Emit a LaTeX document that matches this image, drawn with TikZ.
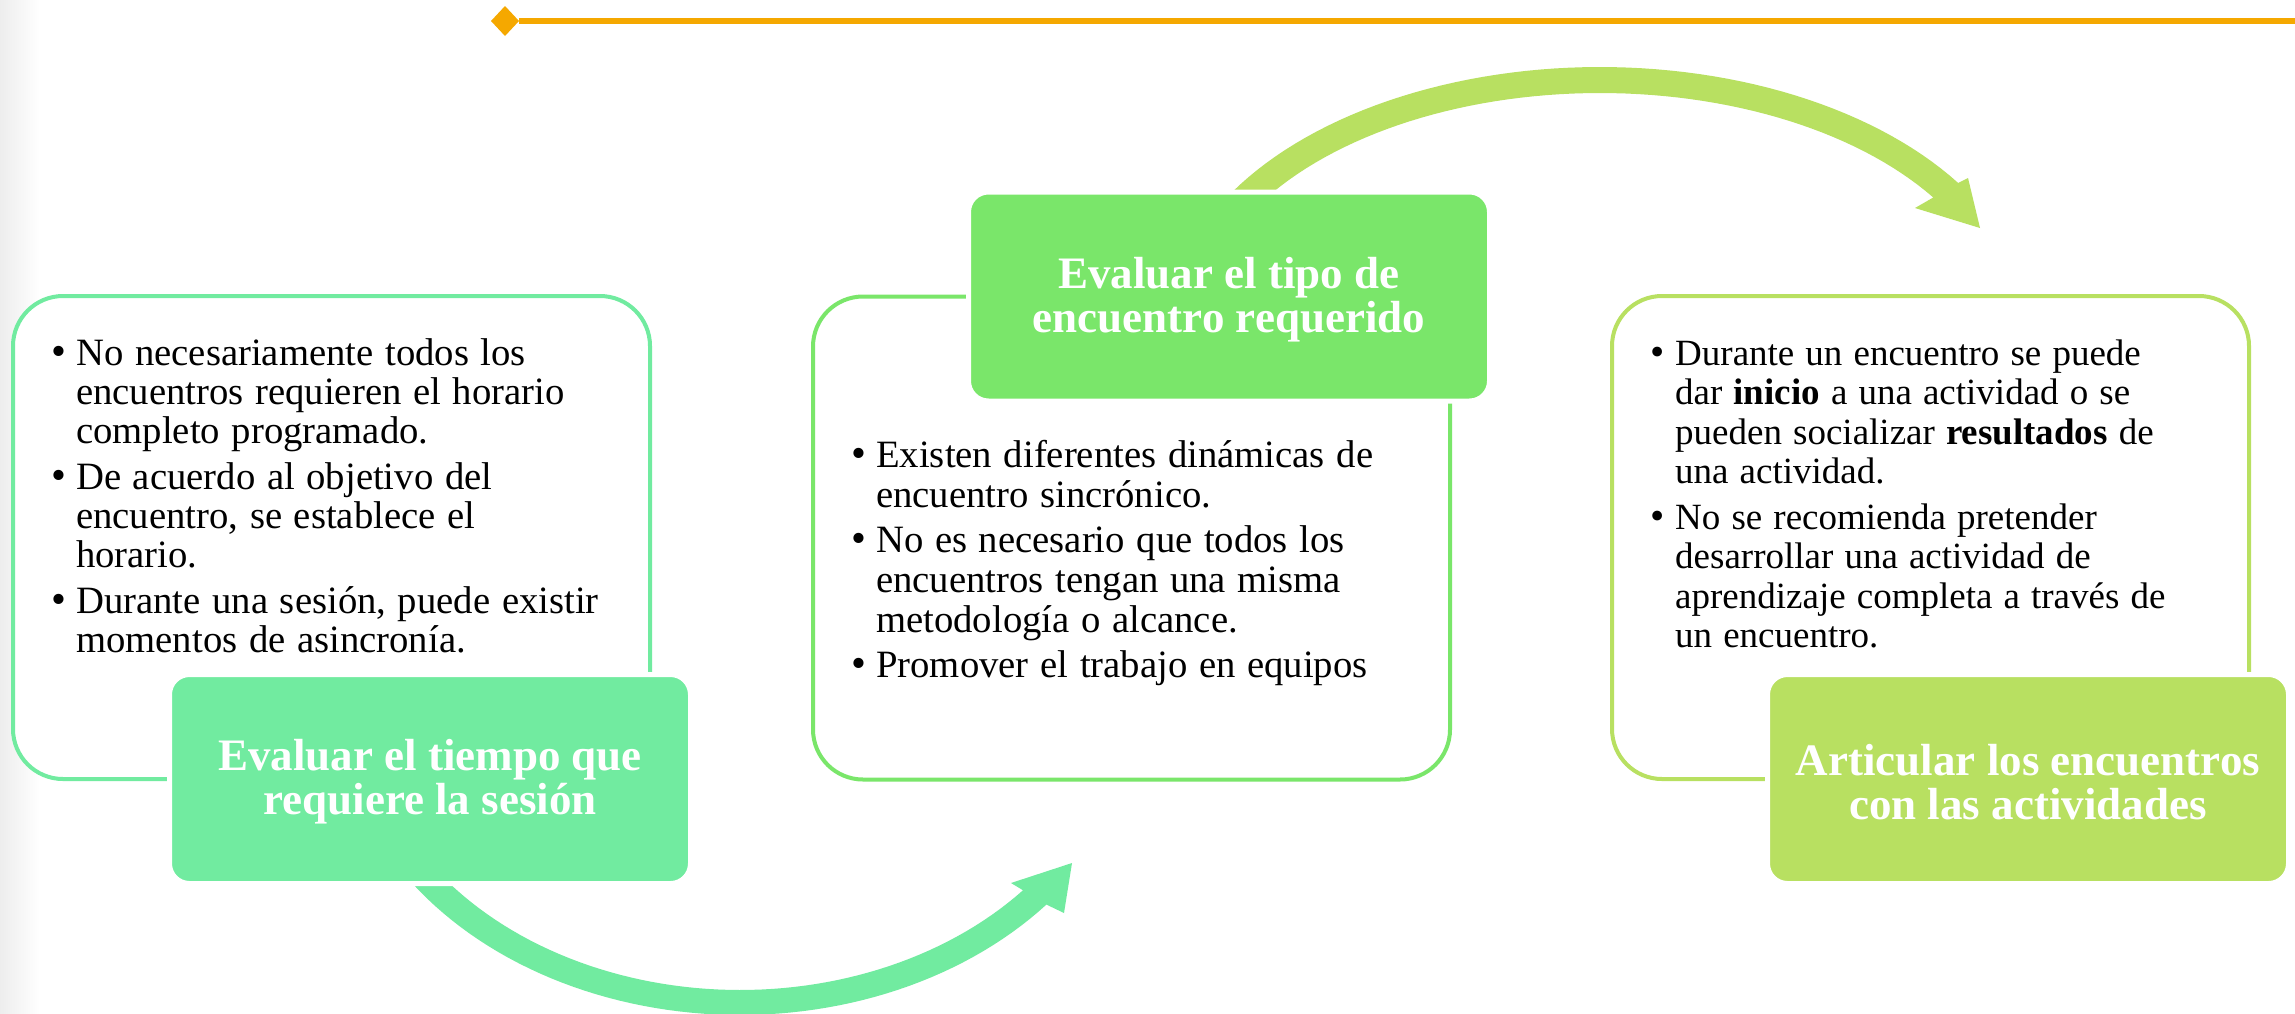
\documentclass[tikz,border=0pt]{standalone}
\usepackage{fontspec}
\setmainfont{Liberation Serif}
\definecolor{cA}{HTML}{71EBA0}
\definecolor{cB}{HTML}{7AE66A}
\definecolor{cC}{HTML}{B8E061}
\definecolor{cO}{HTML}{F5A800}
\newcommand\mytitlefont{\fontsize{45}{44}\selectfont\bfseries\lineskiplimit=-100pt}
\newcommand\bul[1]{\hangindent=23pt\hangafter=1\noindent\makebox[23pt][l]{\hspace*{-2pt}\scalebox{1.1}{\textbullet}}#1\par}
\newcommand\nl{\hfil\break}
\newcommand\fs{\rule{0pt}{30pt}}
\newcommand\setbody[3]{\fontsize{#1}{#2}\selectfont\lineskiplimit=-100pt\setlength{\parskip}{#3}%
  \raggedright\spaceskip=0.3em plus 0.1em minus 0.05em\xspaceskip=0.4em}
\tikzset{
  outlinebox/.style={draw=#1, fill=white, line width=4pt, rounded corners=50pt,
    minimum width=637pt, minimum height=483pt, inner sep=0pt},
  labelbox/.style={fill=#1, draw=white, line width=5pt, rounded corners=20pt,
    minimum width=521pt, minimum height=209pt, inner sep=0pt},
  titletext/.style={text=white, font=\mytitlefont, align=center, inner sep=0pt},
  bodytext/.style={anchor=north west, inner sep=0pt, text width=640pt, align=flush left},
}
\begin{document}
\begin{tikzpicture}[x=1pt,y=-1pt]
\useasboundingbox (0,0) rectangle (2295,1013);
\fill[white] (0,0) rectangle (2295,1013);
\fill[left color=black!7, right color=white] (0,0) rectangle (40,1013);

% top orange line with diamond
\coordinate (dm) at (505,21);
\draw[cO, line width=6pt] (519,21) -- (2295,21);
\fill[cO] (dm) ++(-14,0) -- ++(14,-15) -- ++(14,15) -- ++(-14,15) -- cycle;

% curved arrows
\fill[cA] plot[domain=144.5:40.5, samples=60] ({740+403*cos(\x)},{700+315*sin(\x)})
  -- (1064,913) -- (1072,863) -- (1011,883)
  -- plot[domain=41:140.9, samples=60] ({740+375*cos(\x)},{700+290*sin(\x)}) -- cycle;
\fill[cC] plot[domain=-148.4:-34, samples=60] ({1600+432*cos(\x)},{330+263*sin(\x)})
  -- (1968,178) -- (1980,228) -- (1915,208)
  -- plot[domain=-34:-144.4, samples=60] ({1600+402*cos(\x)},{330+237*sin(\x)}) -- cycle;

% outline boxes
\node[outlinebox=cA] (b1) at (331.5,537.5) {};
\node[outlinebox=cB] (b2) at (1131.5,538) {};
\node[outlinebox=cC] (b3) at (1930.5,537.5) {};

% body texts
\node[bodytext] (t1) at (53,335) {\setbody{38.7}{39}{7pt}%
\bul{\fs No necesariamente todos los\nl encuentros requieren el horario\nl completo programado.}
\bul{De acuerdo al objetivo del\nl encuentro, se establece el\nl horario.}
\bul{Durante una sesión, puede existir\nl momentos de asincronía.}};

\node[bodytext] (t2) at (853,437) {\setbody{38.7}{40}{5pt}%
\bul{\fs Existen diferentes dinámicas de\nl encuentro sincrónico.}
\bul{No es necesario que todos los\nl encuentros tengan una misma\nl metodología o alcance.}
\bul{Promover el trabajo en equipos}};

\node[bodytext] (t3) at (1652,335) {\setbody{37}{39.4}{6.6pt}%
\bul{\fs Durante un encuentro se puede\nl dar \textbf{inicio} a una actividad o se\nl pueden socializar \textbf{resultados} de\nl una actividad.}
\bul{No se recomienda pretender\nl desarrollar una actividad de\nl aprendizaje completa a través de\nl un encuentro.}};

% label boxes
\node[labelbox=cA] (l1) at (430,779) {};
\node[labelbox=cB] (l2) at (1229,296.5) {};
\node[labelbox=cC] (l3) at (2028,779) {};
\node[titletext] (l1t) at ([yshift=-3pt]l1.center) {Evaluar el tiempo que\\requiere la sesión};
\node[titletext] (l2t) at ([yshift=-3pt]l2.center) {Evaluar el tipo de\\encuentro requerido};
\node[titletext] (l3t) at ([yshift=-3pt]l3.center) {Articular los encuentros\\con las actividades};
\end{tikzpicture}
\end{document}
